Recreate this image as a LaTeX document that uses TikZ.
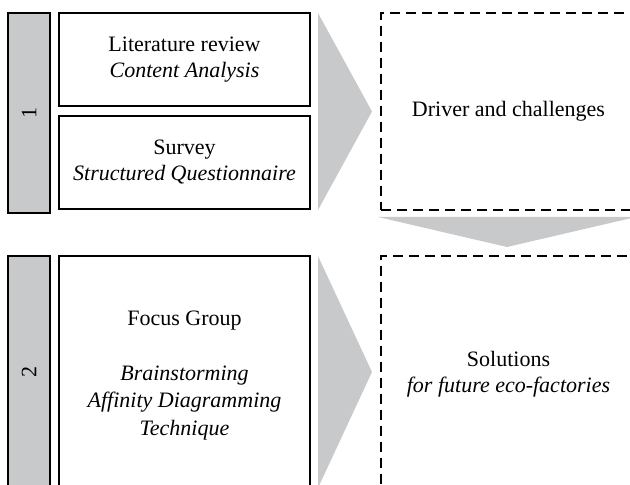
\documentclass[tikz,border=0pt]{standalone}
\usepackage{fontspec}
\setmainfont{Liberation Serif}
\usetikzlibrary{positioning}
\definecolor{stepgray}{RGB}{200,201,203}

\begin{document}
\begin{tikzpicture}[x=1pt, y=1pt, node distance=10pt]
      \useasboundingbox (0,0) rectangle (630,485);
      \clip (0,0) rectangle (630,485);
      \begin{scope}[every node/.style={font=\fontsize{22}{26}\selectfont, align=center,
          inner sep=0pt, outer sep=0pt, line width=1.2pt}]
        % stage 1
        \node (P1)[draw, fill=stepgray, minimum width=42pt, minimum height=200pt] at (29,372) {\rotatebox{90}{1}};
        \node (L)[draw, minimum width=251pt, minimum height=93pt] at (184.5,425.5) {Literature review\\ \textit{Content Analysis}};
        \node (S)[draw, minimum width=251pt, minimum height=93pt] [below= of L] {Survey\\ \textit{Structured Questionnaire}};
        \node (D)[draw, dash pattern=on 10pt off 6pt, minimum width=255pt, minimum height=197pt] at (508.5,373.5) {\raisebox{-4pt}{Driver and challenges}};
        % stage 2
        \node (P2)[draw, fill=stepgray, minimum width=42pt, minimum height=232pt] at (29,113) {\rotatebox{90}{2}};
        \node (F)[draw, minimum width=251pt, minimum height=232pt, font=\fontsize{22}{27.5}\selectfont] at (184.5,113) {\\[-6pt]Focus Group\\[27pt] \textit{Brainstorming}\\ \textit{Affinity Diagramming}\\ \textit{Technique}};
        \node (R)[draw, dash pattern=on 10pt off 6pt, minimum width=255pt, minimum height=232pt] at (508.5,113) {\\[-6pt]Solutions\\ \textit{for future eco-factories}};
      \end{scope}
      \begin{scope}[every path/.style={fill=stepgray, draw=none}]
        \path (318,472) -- (372,373.5) -- (318,275) -- cycle;
        \path (378,268) -- (636,268) -- (507,238) -- cycle;
        \path (318,229) -- (372,113) -- (318,-3) -- cycle;
      \end{scope}
    \end{tikzpicture}
\end{document}
